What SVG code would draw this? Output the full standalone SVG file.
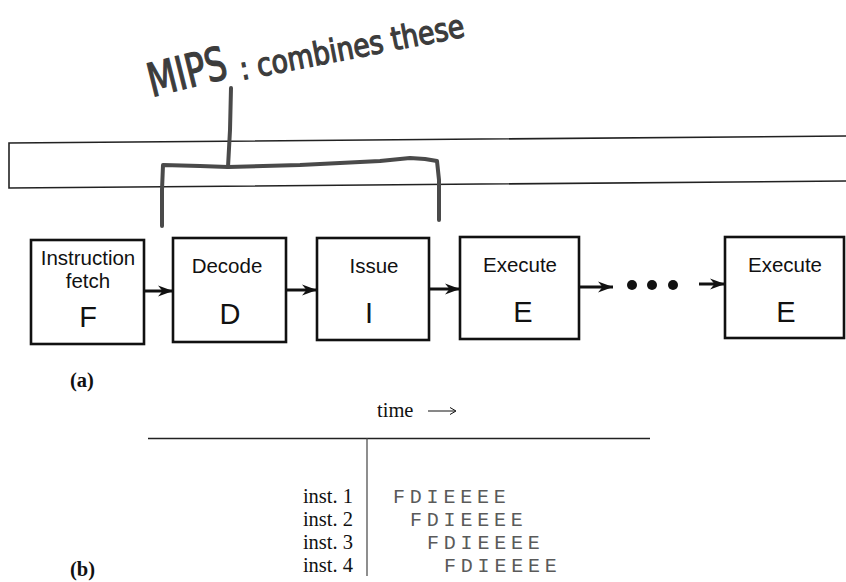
<svg xmlns="http://www.w3.org/2000/svg" width="846" height="582" viewBox="0 0 846 582">
  <defs>
    <marker id="arrow" markerUnits="userSpaceOnUse" markerWidth="16" markerHeight="12" refX="15" refY="6" orient="auto">
      <path d="M0,0.5 L15,6 L0,11.5 L4.5,6 Z" fill="#111"/>
    </marker>
    <style>
      .box { fill: #fff; stroke: #111; stroke-width: 2.6; }
      .lbl { font-family: "Liberation Sans", Arial, sans-serif; font-size: 20.5px; fill: #111; text-anchor: middle; }
      .big { font-family: "Liberation Sans", Arial, sans-serif; font-size: 29px; fill: #111; text-anchor: middle; }
      .link { stroke: #111; stroke-width: 3; fill: none; marker-end: url(#arrow); }
      .pen { stroke: #4a4a4a; stroke-width: 4; fill: none; stroke-linecap: round; stroke-linejoin: round; }
      .hand { font-family: "DejaVu Sans Condensed", "Liberation Sans", sans-serif; fill: #3c3c3c; stroke: #3c3c3c; stroke-width: 1.2; }
      .serif { font-family: "Liberation Serif", "Times New Roman", serif; font-size: 20.5px; fill: #111; }
      .mono { font-family: "Liberation Mono", "Courier New", monospace; font-size: 20px; fill: #5a5a5a; letter-spacing: 4.8px; }
    </style>
  </defs>

  <rect width="846" height="582" fill="#fff"/>

  <!-- long band across the top of the pipeline -->
  <g id="band" stroke="#222" stroke-width="1.6" fill="none">
    <path d="M848,136 L9,143 L9,188 L848,181"/>
  </g>

  <!-- handwritten note and bracket -->
  <g id="note">
    <text class="hand" font-size="46" transform="translate(152,97) rotate(-14)" textLength="80" lengthAdjust="spacingAndGlyphs">MIPS</text>
    <text class="hand" font-size="32" transform="translate(242,80) rotate(-11)" textLength="228" lengthAdjust="spacingAndGlyphs">: combines these</text>
    <path class="pen" d="M231,88 L230,130 L228,167"/>
    <path class="pen" d="M162,226 L162,190 L163,165 L200,166 L228,167 L300,165 L380,161 L410,158 L425,159 L437,161 L439,180 L439,220"/>
  </g>

  <!-- pipeline stages -->
  <g id="stage-fetch">
    <rect class="box" x="31" y="240" width="113" height="104"/>
    <text class="lbl" x="88" y="265">Instruction</text>
    <text class="lbl" x="88" y="288">fetch</text>
    <text class="big" x="88" y="327">F</text>
  </g>
  <g id="stage-decode">
    <rect class="box" x="173" y="238" width="113" height="104"/>
    <text class="lbl" x="227" y="273">Decode</text>
    <text class="big" x="230" y="324">D</text>
  </g>
  <g id="stage-issue">
    <rect class="box" x="317" y="238" width="112" height="102"/>
    <text class="lbl" x="374" y="273">Issue</text>
    <text class="big" x="369" y="323">I</text>
  </g>
  <g id="stage-execute-1">
    <rect class="box" x="460" y="237" width="119" height="102"/>
    <text class="lbl" x="520" y="272">Execute</text>
    <text class="big" x="523" y="322">E</text>
  </g>
  <g id="stage-execute-n">
    <rect class="box" x="725" y="237" width="119" height="101"/>
    <text class="lbl" x="785" y="272">Execute</text>
    <text class="big" x="786" y="322">E</text>
  </g>

  <!-- connectors -->
  <g id="connectors">
    <line class="link" x1="144" y1="291" x2="173" y2="291"/>
    <line class="link" x1="286" y1="290" x2="317" y2="290"/>
    <line class="link" x1="429" y1="289" x2="460" y2="289"/>
    <line class="link" x1="579" y1="287" x2="613" y2="287"/>
    <line class="link" x1="699" y1="284" x2="725" y2="284"/>
    <g fill="#111">
      <circle cx="632" cy="285" r="5"/>
      <circle cx="652" cy="285" r="5"/>
      <circle cx="673" cy="285" r="5"/>
    </g>
  </g>

  <!-- part labels -->
  <text class="serif" x="70" y="387" font-weight="bold">(a)</text>
  <text class="serif" x="70" y="576" font-weight="bold">(b)</text>

  <!-- timing table -->
  <g id="timing">
    <text class="serif" x="377" y="417">time</text>
    <line x1="428" y1="411" x2="455" y2="411" stroke="#111" stroke-width="1"/>
    <path d="M450,407.5 L456,411 L450,414.5" fill="none" stroke="#111" stroke-width="1"/>
    <line x1="148" y1="438.5" x2="650" y2="438.5" stroke="#222" stroke-width="1.6"/>
    <line x1="367" y1="438" x2="367" y2="576" stroke="#444" stroke-width="1.2"/>
    <g class="serif" text-anchor="end">
      <text x="353" y="503">inst.  1</text>
      <text x="353" y="526">inst.  2</text>
      <text x="353" y="549">inst.  3</text>
      <text x="353" y="572">inst.  4</text>
    </g>
    <g class="mono">
      <text x="393" y="503">FDIEEEE</text>
      <text x="410" y="526">FDIEEEE</text>
      <text x="427" y="549">FDIEEEE</text>
      <text x="444" y="572">FDIEEEE</text>
    </g>
  </g>
</svg>
